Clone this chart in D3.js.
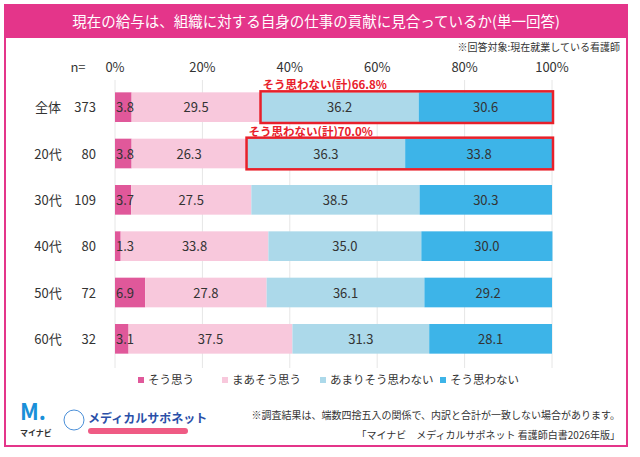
<!DOCTYPE html>
<html><head><meta charset="utf-8">
<script src="https://cdn.jsdelivr.net/npm/d3@7"></script>
<style>body{margin:0;background:#fff}text{font-family:"Noto Sans CJK JP",sans-serif}</style>
</head><body><svg width="640" height="457"></svg>
<script>
const categories = ["全体", "20代", "30代", "40代", "50代", "60代"]
const counts = [373, 80, 109, 80, 72, 32]
const seriesNames = ["そう思う", "まあそう思う", "あまりそう思わない", "そう思わない"]
const colors = ["#e0589a", "#f8c8dc", "#acd9ea", "#3db4e8"]
const values = [
  [3.8, 29.5, 36.2, 30.6],
  [3.8, 26.3, 36.3, 33.8],
  [3.7, 27.5, 38.5, 30.3],
  [1.3, 33.8, 35.0, 30.0],
  [6.9, 27.8, 36.1, 29.2],
  [3.1, 37.5, 31.3, 28.1]
]
const ticks = [0, 20, 40, 60, 80, 100]
const highlights = [{row: 0, label: "そう思わない(計)66.8%"}, {row: 1, label: "そう思わない(計)70.0%"}]

const svg = d3.select("svg")
const pink = "#e4358a"
svg.append("rect").attr("x", 5).attr("y", 5).attr("width", 622).attr("height", 441)
  .attr("fill", "#fff").attr("stroke", pink).attr("stroke-width", 2)
svg.append("rect").attr("x", 5).attr("y", 5).attr("width", 622).attr("height", 33).attr("fill", pink)
svg.append("text").attr("x", 316).attr("y", 27).attr("text-anchor", "middle")
  .attr("fill", "#fff").attr("font-size", 14.5).text("現在の給与は、組織に対する自身の仕事の貢献に見合っているか(単一回答)")
svg.append("text").attr("x", 620).attr("y", 51).attr("text-anchor", "end")
  .attr("font-size", 10).attr("fill", "#333").text("※回答対象:現在就業している看護師")

const x = d3.scaleLinear().domain([0, 100]).range([115, 552])
const y = d3.scaleBand().domain(categories).range([84, 362]).paddingInner(0.36).paddingOuter(0.18)

const g = svg.append("g")
g.selectAll(".grid").data(ticks).enter().append("line")
  .attr("x1", d => x(d)).attr("x2", d => x(d)).attr("y1", 80).attr("y2", 368)
  .attr("stroke", "#e6e6e6")
g.selectAll(".tick").data(ticks).enter().append("text")
  .attr("x", d => x(d)).attr("y", 72).attr("text-anchor", "middle")
  .attr("font-size", 13).attr("fill", "#333").text(d => d + "%")
svg.append("text").attr("x", 78).attr("y", 72).attr("text-anchor", "middle").attr("font-size", 13).attr("fill", "#333").text("n=")

const labels = svg.append("g")
categories.forEach((c, i) => {
  const yc = y(c) + y.bandwidth() / 2
  svg.append("text").attr("x", 48).attr("y", yc + 5).attr("text-anchor", "middle").attr("font-size", 13).attr("fill", "#333").text(c)
  svg.append("text").attr("x", 96).attr("y", yc + 5).attr("text-anchor", "end").attr("font-size", 13).attr("fill", "#333").text(counts[i])
  const stacks = d3.cumsum(values[i])
  values[i].forEach((v, j) => {
    const x0 = stacks[j] - v
    g.append("rect").attr("x", x(x0)).attr("y", y(c)).attr("width", x(x0 + v) - x(x0)).attr("height", y.bandwidth()).attr("fill", colors[j])
    labels.append("text").attr("x", j === 0 ? x(x0) + 1 : (x(x0) + x(x0 + v)) / 2).attr("y", yc + 5)
      .attr("text-anchor", j === 0 ? "start" : "middle").attr("font-size", 13).attr("fill", "#333").text(v.toFixed(1))
  })
})
labels.raise()

highlights.forEach(h => {
  const c = categories[h.row], vs = values[h.row]
  const x0 = vs[0] + vs[1]
  svg.append("rect").attr("x", x(x0)).attr("y", y(c) - 1).attr("width", x(100) - x(x0) + 1).attr("height", y.bandwidth() + 2)
    .attr("fill", "none").attr("stroke", "#e8202a").attr("stroke-width", 2.5)
  svg.append("text").attr("x", x(x0) + 2).attr("y", y(c) - 3).attr("font-size", 11.5).attr("font-weight", "bold")
    .attr("fill", "#e8202a").text(h.label)
})

const lx = [138, 222, 320, 440]
seriesNames.forEach((s, j) => {
  svg.append("rect").attr("x", lx[j]).attr("y", 377).attr("width", 6).attr("height", 6).attr("fill", colors[j])
  svg.append("text").attr("x", lx[j] + 10).attr("y", 384).attr("font-size", 11.5).attr("fill", "#333").text(s)
})

svg.append("text").attr("x", 20).attr("y", 420).attr("font-size", 22).attr("font-weight", "bold").attr("fill", "#1a8fd8").text("M.")
svg.append("text").attr("x", 20).attr("y", 436).attr("font-size", 8).attr("font-weight", "bold").attr("fill", "#333").text("マイナビ")
svg.append("circle").attr("cx", 74).attr("cy", 420).attr("r", 10).attr("fill", "none").attr("stroke", "#4a8fd8")
svg.append("text").attr("x", 88).attr("y", 423).attr("font-size", 12).attr("font-weight", "bold").attr("fill", "#2a4fa8").text("メディカルサポネット")
svg.append("rect").attr("x", 88).attr("y", 428).attr("width", 100).attr("height", 6).attr("rx", 3).attr("fill", "#ef5b84")
svg.append("text").attr("x", 620).attr("y", 419).attr("text-anchor", "end").attr("font-size", 10).attr("fill", "#333").text("※調査結果は、端数四捨五入の関係で、内訳と合計が一致しない場合があります。")
svg.append("text").attr("x", 620).attr("y", 439).attr("text-anchor", "end").attr("font-size", 10).attr("fill", "#333").text("「マイナビ　メディカルサポネット 看護師白書2026年版」")
</script></body></html>
